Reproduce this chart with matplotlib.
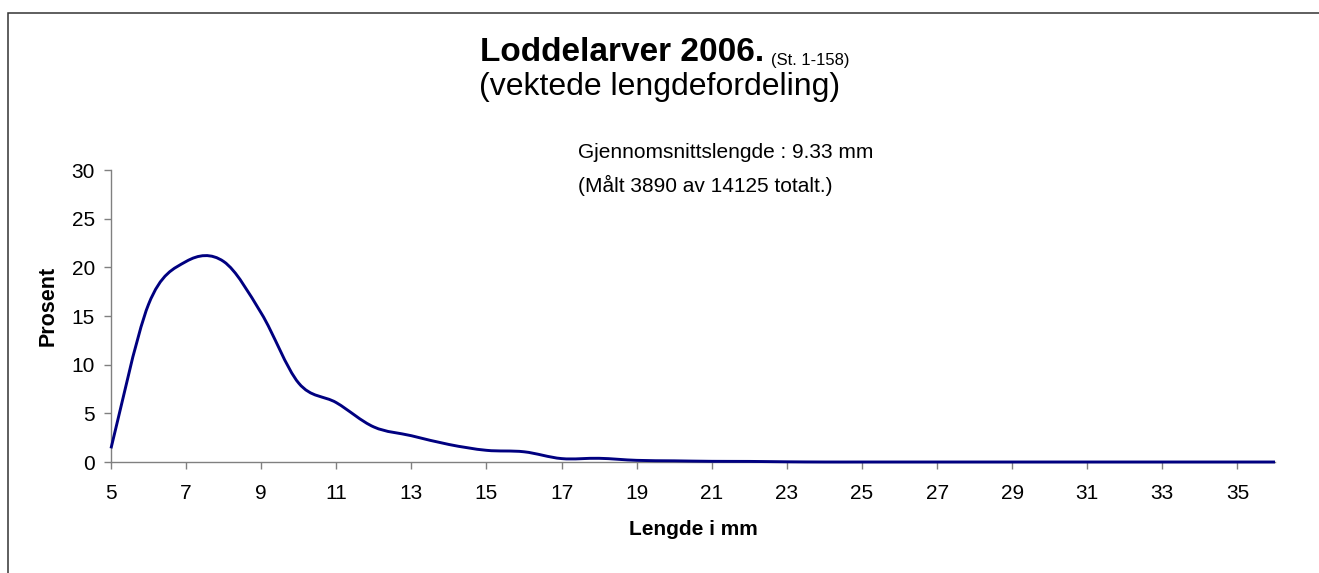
import matplotlib
matplotlib.use("Agg")
import matplotlib.pyplot as plt
import numpy as np
from matplotlib.path import Path
from matplotlib.patches import PathPatch, Rectangle

plt.rcParams["font.family"] = ["Liberation Sans", "DejaVu Sans"]

# lengde (mm) og prosent, lest av figuren
lengde = [5, 6, 7, 8, 9, 10, 11, 12, 13, 14, 15, 16, 17, 18, 19, 20,
          21, 22, 23, 24, 25, 26, 27, 28, 29, 30, 31, 32, 33, 34, 35, 36]
prosent = [1.4, 16.2, 20.6, 20.6, 15.3, 8.1, 6.1, 3.6, 2.7, 1.8, 1.2, 1.05,
           0.35, 0.38, 0.17, 0.12, 0.07, 0.06, 0.02, 0, 0, 0, 0, 0, 0, 0,
           0, 0, 0, 0, 0, 0]
xticks = list(range(5, 36, 2))
yticks = [0, 5, 10, 15, 20, 25, 30]

TITLE = "Loddelarver 2006."
SUBTITLE_SMALL = "(St. 1-158)"
SUBTITLE = "(vektede lengdefordeling)"
NOTE1 = "Gjennomsnittslengde : 9.33 mm"
NOTE2 = "(Målt 3890 av 14125 totalt.)"

W, H = 1319, 573


def smooth_path(xs, ys):
    # glatt linje (Catmull-Rom som Bezier), slik Excel tegner "smoothed line"
    pts = np.column_stack([xs, ys]).astype(float)
    ext = np.vstack([pts[0], pts, pts[-1]])
    verts = [pts[0]]
    codes = [Path.MOVETO]
    for i in range(len(pts) - 1):
        p0, p1, p2, p3 = ext[i], ext[i + 1], ext[i + 2], ext[i + 3]
        verts += [p1 + (p2 - p0) / 6, p2 - (p3 - p1) / 6, p2]
        codes += [Path.CURVE4] * 3
    return Path(verts, codes)


fig = plt.figure(figsize=(W / 100, H / 100), dpi=100)
ax = fig.add_axes([111 / W, 1 - 462 / H, (1275 - 111) / W, (462 - 170) / H])

patch = PathPatch(smooth_path(lengde, prosent), facecolor="none",
                  edgecolor="#000080", lw=2.1, clip_on=False, zorder=5)
ax.add_patch(patch)

ax.set_xlim(5, 36)
ax.set_ylim(0, 30)
ax.set_xticks(xticks)
ax.set_yticks(yticks)
for s in ["top", "right"]:
    ax.spines[s].set_visible(False)
for s in ["left", "bottom"]:
    ax.spines[s].set_color("#808080")
    ax.spines[s].set_linewidth(1.0)
ax.tick_params(axis="x", direction="out", length=5, width=1, color="#808080",
               labelsize=15, pad=11)
ax.tick_params(axis="y", direction="out", length=5, width=1, color="#808080",
               labelsize=15, pad=6.5)

fig.text(693 / W, 1 - 535 / H, "Lengde i mm", ha="center", va="baseline",
         fontsize=15, fontweight="bold")
fig.text(48 / W, 1 - 306 / H, "Prosent", ha="center", va="center",
         rotation=90, fontsize=15.5, fontweight="bold")

t = fig.text(480 / W, 1 - 61 / H, TITLE, ha="left", va="baseline",
             fontsize=24, fontweight="bold")
ax.annotate(SUBTITLE_SMALL, xy=(1, 0), xytext=(5, 0), xycoords=t,
            textcoords="offset points", ha="left", va="bottom", fontsize=12)
fig.text(660 / W, 1 - 95 / H, SUBTITLE, ha="center", va="baseline", fontsize=23)

fig.text(578 / W, 1 - 158 / H, NOTE1, ha="left", va="baseline", fontsize=15)
fig.text(578 / W, 1 - 192 / H, NOTE2, ha="left", va="baseline", fontsize=15)

# ramme rundt diagramområdet
fig.patches.append(Rectangle((7.5 / W, -0.1), 2, 1 - 12.7 / H + 0.1,
                             transform=fig.transFigure, fill=False,
                             edgecolor="#333333", lw=1.1))

fig.savefig("out.png", dpi=100)
